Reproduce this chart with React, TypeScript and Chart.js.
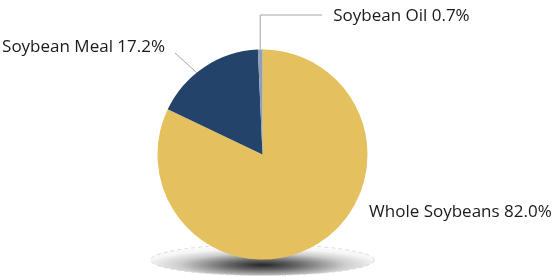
import React, { useEffect, useRef } from "react";
import { Chart, registerables } from "chart.js";

Chart.register(...registerables);

const categories = ["Whole Soybeans", "Soybean Meal", "Soybean Oil"];
const shares = [82.0, 17.2, 0.7];
const colors = ["#E4C15E", "#23436A", "#8FA0B2"];

// label placement relative to the slice's outer mid-point
const labelOffsets = [
  { line: [] as number[][], text: [50.5, -31.5], align: "left" },
  { line: [[-7.5, 6], [-29.5, -14]], text: [-39.5, -20], align: "right" },
  { line: [[0, 0], [0, -34.5], [62, -34.5]], text: [73, -33], align: "left" },
];

const FONT = "17px 'Open Sans', sans-serif";

const shadowPlugin = {
  id: "shadowPlugin",
  beforeDatasetsDraw(chart: any) {
    const meta = chart.getDatasetMeta(0);
    const arc = meta.data[0];
    if (!arc) return;
    const { x, y, outerRadius } = arc.getProps(["x", "y", "outerRadius"], true);
    const ctx = chart.ctx;
    const cy = y + outerRadius + 0.5;
    const rx = outerRadius * 1.065;
    const ry = 15.5;
    ctx.save();
    ctx.beginPath();
    ctx.ellipse(x, cy, rx, ry, 0, 0, Math.PI * 2);
    ctx.clip();
    ctx.translate(x, cy + 5);
    ctx.scale(1, ry / rx);
    const g = ctx.createRadialGradient(0, 0, 0, 0, 0, rx * 1.05);
    g.addColorStop(0, "rgba(0,0,0,0.85)");
    g.addColorStop(0.3, "rgba(0,0,0,0.6)");
    g.addColorStop(0.7, "rgba(0,0,0,0.2)");
    g.addColorStop(1, "rgba(0,0,0,0.03)");
    ctx.fillStyle = g;
    ctx.beginPath();
    ctx.arc(0, 0, rx * 1.2, 0, Math.PI * 2);
    ctx.fill();
    ctx.restore();
    ctx.save();
    ctx.strokeStyle = "rgba(215,215,215,0.9)";
    ctx.setLineDash([4, 3]);
    ctx.lineWidth = 1;
    ctx.beginPath();
    ctx.ellipse(x, cy, rx, ry, 0, 0, Math.PI * 2);
    ctx.stroke();
    ctx.restore();
  },
};

const labelPlugin = {
  id: "labelPlugin",
  afterDatasetsDraw(chart: any) {
    const meta = chart.getDatasetMeta(0);
    const ctx = chart.ctx;
    ctx.save();
    ctx.font = FONT;
    ctx.textBaseline = "middle";
    meta.data.forEach((arc: any, i: number) => {
      const { x, y, startAngle, endAngle, outerRadius } = arc.getProps(
        ["x", "y", "startAngle", "endAngle", "outerRadius"],
        true
      );
      const mid = (startAngle + endAngle) / 2;
      const ax = x + Math.cos(mid) * outerRadius;
      const ay = y + Math.sin(mid) * outerRadius;
      const cfg = labelOffsets[i];
      if (cfg.line.length > 1) {
        ctx.strokeStyle = "#A6A6A6";
        ctx.lineWidth = 1;
        ctx.beginPath();
        cfg.line.forEach((p, k) => {
          const px = ax + p[0];
          const py = ay + p[1];
          if (k === 0) ctx.moveTo(px, py);
          else ctx.lineTo(px, py);
        });
        ctx.stroke();
      }
      ctx.fillStyle = "#1a1a1a";
      ctx.textAlign = cfg.align;
      ctx.fillText(
        `${categories[i]} ${shares[i].toFixed(1)}%`,
        ax + cfg.text[0],
        ay + cfg.text[1]
      );
    });
    ctx.restore();
  },
};

export default function App() {
  const ref = useRef<HTMLCanvasElement | null>(null);
  useEffect(() => {
    if (!ref.current) return;
    const chart = new Chart(ref.current, {
      type: "pie",
      data: {
        labels: categories,
        datasets: [
          {
            data: shares,
            backgroundColor: colors,
            borderWidth: 0,
          },
        ],
      },
      options: {
        animation: false,
        responsive: false,
        layout: { padding: { top: 49.5, bottom: 16.5, left: 0, right: 33 } },
        plugins: {
          legend: { display: false },
          tooltip: { enabled: false },
        },
      },
      plugins: [shadowPlugin, labelPlugin],
    });
    return () => chart.destroy();
  }, []);
  return (
    <div style={{ position: "fixed", left: 0, top: 0, width: 558, height: 276, background: "#fff" }}>
      <canvas ref={ref} width={558} height={276} />
    </div>
  );
}
